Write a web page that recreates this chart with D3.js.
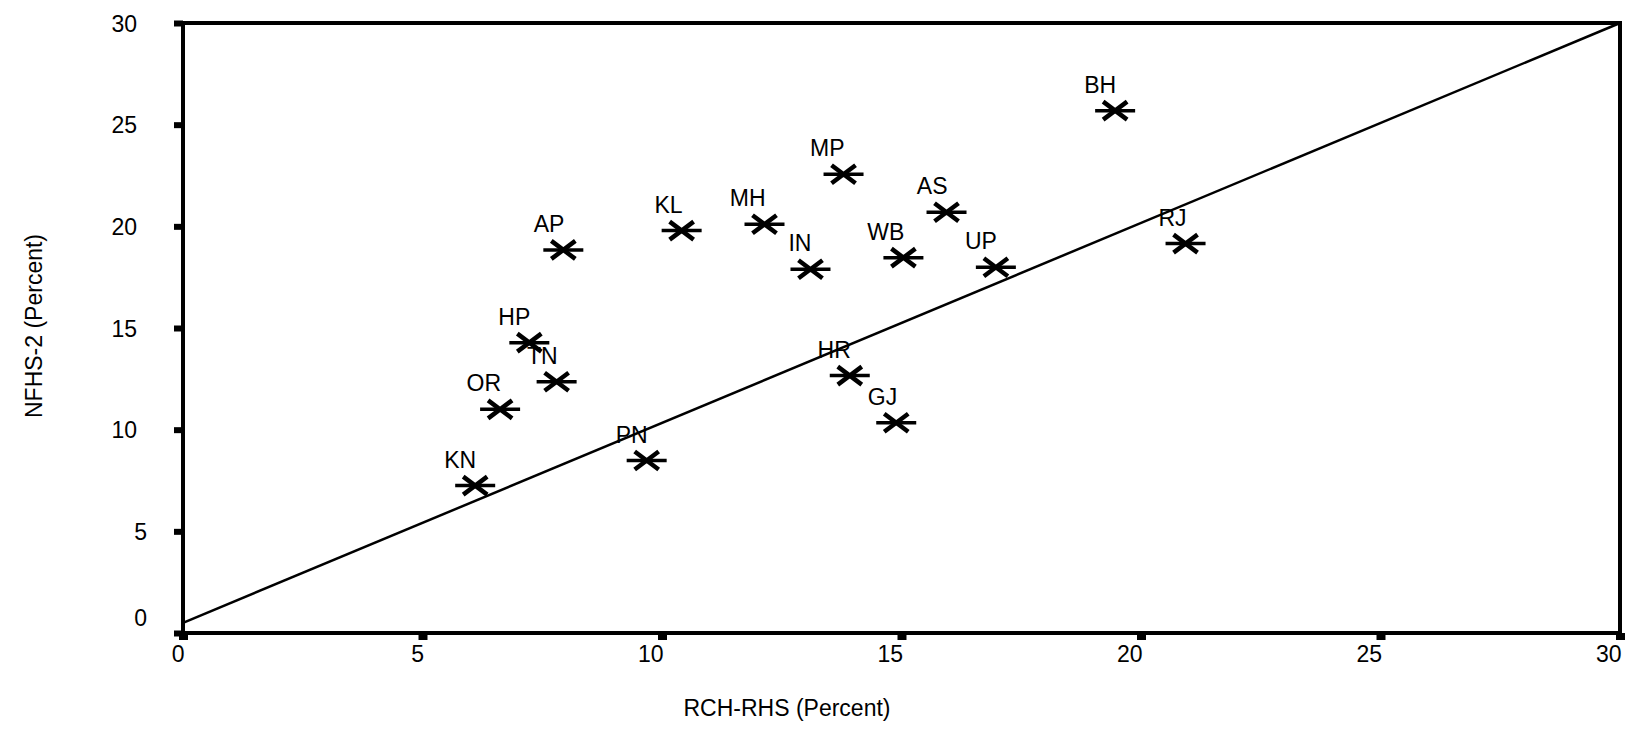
<!DOCTYPE html>
<html>
<head>
<meta charset="utf-8">
<script src="https://cdn.jsdelivr.net/npm/d3@7"></script>
<style>
  html, body { margin: 0; padding: 0; background: #fff; }
  svg { display: block; }
  text { font-family: "Liberation Sans", Arial, Helvetica, sans-serif; font-size: 23px; fill: #000; }
</style>
</head>
<body>
<svg id="chart" width="1630" height="744"></svg>
<script>
// ---- data ----
const states = ["KN","OR","TN","HP","AP","PN","KL","MH","IN","MP","HR","GJ","WB","AS","UP","BH","RJ"];
const rchRhs = [6.10, 6.62, 7.80, 7.23, 7.94, 9.68, 10.41, 12.14, 13.10, 13.79, 13.92, 14.89, 15.04, 15.94, 16.97, 19.46, 20.93];
const nfhs2  = [7.25, 11.00, 12.36, 14.28, 18.84, 8.48, 19.79, 20.10, 17.89, 22.56, 12.66, 10.34, 18.46, 20.69, 17.99, 25.69, 19.15];
const xTicks = [0, 5, 10, 15, 20, 25, 30];
const yTicks = [0, 5, 10, 15, 20, 25, 30];
const refLineX = [0, 30];
const refLineY = [0.5, 30];
const xTitle = "RCH-RHS (Percent)";
const yTitle = "NFHS-2 (Percent)";

const points = states.map((s, i) => ({ name: s, x: rchRhs[i], y: nfhs2[i] }));

// ---- layout ----
const svg = d3.select("#chart");
const plotLeft = 183, plotRight = 1620, plotTop = 23, plotBottom = 633;
const x = d3.scaleLinear().domain([0, 30]).range([plotLeft, plotRight]);
const y = d3.scaleLinear().domain([0, 30]).range([plotBottom, plotTop]);

// x axis
const gx = svg.append("g").attr("transform", `translate(0,${plotBottom})`)
  .call(d3.axisBottom(x).tickValues(xTicks).tickSize(7).tickSizeOuter(0));
gx.select(".domain").remove();
gx.selectAll(".tick line").attr("stroke", "#000").attr("stroke-width", 9);
gx.selectAll(".tick text")
  .attr("y", 29).attr("dy", null).attr("x", 1)
  .attr("text-anchor", "end")
  .style("font-size", "23px").style("font-family", null);

// y axis
const gy = svg.append("g").attr("transform", `translate(${plotLeft},0)`)
  .call(d3.axisLeft(y).tickValues(yTicks).tickSize(9).tickSizeOuter(0));
gy.select(".domain").remove();
gy.selectAll(".tick line").attr("stroke", "#000").attr("stroke-width", 6);
gy.selectAll(".tick text")
  .attr("x", d => String(d).length === 1 ? -36 : -46)
  .attr("y", d => d === 0 ? -16 : 0)
  .attr("dy", "0.36em")
  .attr("text-anchor", "end")
  .style("font-size", "23px").style("font-family", null);

// frame
svg.append("rect")
  .attr("x", x(0)).attr("y", y(30))
  .attr("width", x(30) - x(0)).attr("height", y(0) - y(30))
  .attr("fill", "none").attr("stroke", "#000").attr("stroke-width", 4);

// reference line
svg.append("line")
  .attr("x1", x(refLineX[0])).attr("y1", y(refLineY[0]))
  .attr("x2", x(refLineX[1])).attr("y2", y(refLineY[1]))
  .attr("stroke", "#000").attr("stroke-width", 2.5);

// markers
const mk = svg.append("g").selectAll("g").data(points).join("g")
  .attr("transform", d => `translate(${x(d.x)},${y(d.y)})`);
mk.append("path")
  .attr("d", "M-20,0H20")
  .attr("fill", "none").attr("stroke", "#000").attr("stroke-width", 3.5);
mk.append("path")
  .attr("d", "M-12,-9L12,9M-12,9L12,-9")
  .attr("fill", "none").attr("stroke", "#000").attr("stroke-width", 4.5);

// labels
svg.append("g").selectAll("text").data(points).join("text")
  .attr("x", d => x(d.x) + 1)
  .attr("y", d => y(d.y) - 18)
  .attr("text-anchor", "end")
  .text(d => d.name);

// titles
svg.append("text").attr("x", 787).attr("y", 716).attr("text-anchor", "middle").text(xTitle);
svg.append("text").attr("transform", "translate(42,326) rotate(-90)").attr("text-anchor", "middle").text(yTitle);
</script>
</body>
</html>
